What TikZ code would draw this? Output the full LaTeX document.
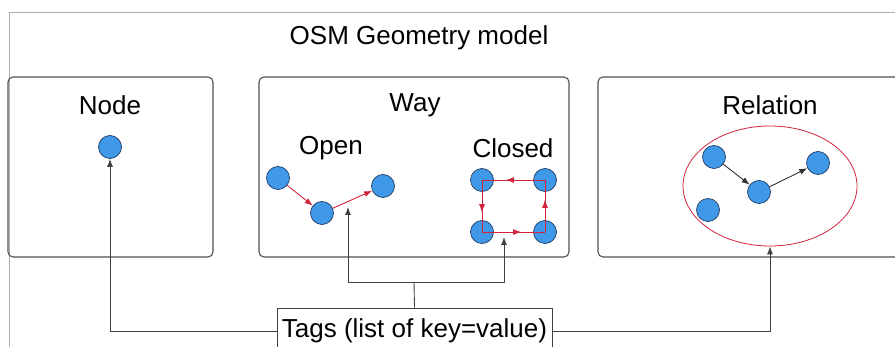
\documentclass[tikz,border=0pt]{standalone}
\usepackage{fontspec}
\setmainfont{Liberation Sans}
\usetikzlibrary{shapes.geometric,decorations.markings,arrows.meta}
\definecolor{dotblue}{RGB}{64,152,232}
\definecolor{dotline}{RGB}{30,60,100}
\definecolor{wayred}{RGB}{210,35,60}
\definecolor{panelgray}{RGB}{80,80,80}
\definecolor{framegray}{RGB}{175,175,175}
\tikzset{
  panel/.style={draw=panelgray,line width=1.1bp,rectangle,rounded corners=5bp,minimum height=180bp},
  dot/.style={circle,fill=dotblue,draw=dotline,line width=0.7bp,minimum size=23bp,inner sep=0pt},
  label/.style={inner sep=0pt},
  wayedge/.style={draw=wayred,line width=0.9bp},
  midarrow/.style={wayedge,postaction={decorate},decoration={markings,mark=at position 0.62 with {\arrow[wayred]{Latex[length=8bp,width=6bp]}}}},
  tagline/.style={draw=black!75,line width=0.9bp},
}
\begin{document}
\begin{tikzpicture}[>={Latex[length=8bp,width=6bp]},line join=bevel,font=\fontsize{26bp}{30bp}\selectfont]
\useasboundingbox (0bp,0bp) rectangle (895bp,347bp);
%%
\draw [framegray,line width=0.9bp] (9bp,-10bp) -- (9bp,335bp) -- (905bp,335bp);
\node (title) at (419bp,309bp) [label] {OSM Geometry model};
%% panels
\node (nodepanel) at (110.5bp,180bp) [panel,minimum width=205bp] {};
\node (waypanel) at (414bp,180bp) [panel,minimum width=310bp] {};
\node (relpanel) at (754bp,180bp) [panel,minimum width=312bp] {};
\node (nodetitle) at (110bp,242bp) [label] {Node};
\node (waytitle) at (415bp,242bp) [label] {Way};
\node (reltitle) at (770bp,242bp) [label] {Relation};
\node (opentitle) at (331bp,199bp) [label] {Open};
\node (closedtitle) at (513bp,199bp) [label] {Closed};
%% node
\node (nd) at (110bp,200bp) [dot] {};
%% open way
\node (o1) at (278bp,169bp) [dot] {};
\node (o2) at (322bp,134bp) [dot] {};
\node (o3) at (383bp,161bp) [dot] {};
\draw [->,wayedge] (o1) -- (o2);
\draw [->,wayedge] (o2) -- (o3);
%% closed way
\node (c1) at (482bp,167bp) [dot] {};
\node (c2) at (545bp,167bp) [dot] {};
\node (c3) at (482bp,115bp) [dot] {};
\node (c4) at (545bp,115bp) [dot] {};
\draw [midarrow] (c2.center) -- (c1.center);
\draw [midarrow] (c1.center) -- (c3.center);
\draw [midarrow] (c3.center) -- (c4.center);
\draw [midarrow] (c4.center) -- (c2.center);
%% relation
\node (group) at (770bp,161bp) [ellipse,draw=wayred,line width=0.8bp,minimum width=174bp,minimum height=120bp] {};
\node (r1) at (714bp,190bp) [dot] {};
\node (r2) at (759bp,155bp) [dot] {};
\node (r3) at (818bp,184bp) [dot] {};
\node (r4) at (708bp,137bp) [dot] {};
\draw [->,black!80,line width=0.9bp] (r1) -- (r2);
\draw [->,black!80,line width=0.9bp] (r2) -- (r3);
%% tags
\node (tags) at (414.5bp,16bp) [draw=black!75,line width=0.9bp,rectangle,minimum width=275bp,minimum height=46bp] {Tags (list of key=value)};
\coordinate (split) at (414bp,65bp);
\coordinate (opentip) at (348bp,140bp);
\coordinate (closedtip) at (504bp,110bp);
\draw [tagline] (tags.north) -- (split);
\draw [->,tagline] (split) -| (opentip);
\draw [->,tagline] (split) -| (closedtip);
\draw [->,tagline] (tags.west) -| (nd);
\draw [->,tagline] (tags.east) -| (group.south);
%
\end{tikzpicture}
\end{document}
